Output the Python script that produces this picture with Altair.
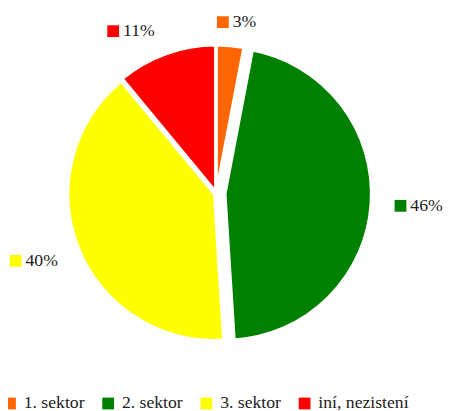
import altair as alt
import pandas as pd

categories = ["1. sektor", "2. sektor", "3. sektor", "iní, nezistení"]
shares = [3, 46, 40, 11]
labels = ["3%", "46%", "40%", "11%"]
colors = ["#FF6600", "#008000", "#FFFF00", "#FF0000"]

df = pd.DataFrame({"cat": categories, "share": shares, "label": labels,
                   "order": list(range(len(categories)))})

CX, CY, R = 212, 185, 149
FONT = "Liberation Serif, DejaVu Serif, serif"

color = alt.Color("cat:N", scale=alt.Scale(domain=categories, range=colors),
                  sort=categories,
                  legend=alt.Legend(title=None, orient="none", legendX=-7, legendY=390,
                                    direction="horizontal", symbolType="square",
                                    symbolSize=144, symbolStrokeWidth=0,
                                    labelFont=FONT, labelFontSize=18, labelColor="#222",
                                    columnPadding=15, labelOffset=5, padding=0))

base = alt.Chart(df).transform_window(
    cum="sum(share)", sort=[alt.SortField("order")],
    frame=[None, 0]
).transform_joinaggregate(total="sum(share)").transform_calculate(
    start="(datum.cum - datum.share) / datum.total * 2 * PI",
    end="datum.cum / datum.total * 2 * PI",
    mid="(datum.cum - datum.share / 2) / datum.total * 2 * PI",
    ex="datum.cat === '2. sektor' ? 9 : 2",
    bw="18 + 12 * length(datum.label)",
).transform_calculate(
    cx=f"{CX} + datum.ex * sin(datum.mid)",
    cy=f"{CY} - datum.ex * cos(datum.mid)",
).transform_calculate(
    px="datum.cx + (164 + datum.ex) * sin(datum.mid)",
    py="datum.cy - (164 + datum.ex) * cos(datum.mid)",
).transform_calculate(
    lx="datum.px + datum.bw / 2 * clamp(3 * sin(datum.mid), -1, 1)",
    ly="datum.py - 7 * clamp(3 * cos(datum.mid), -1, 1)",
).transform_calculate(
    sx="datum.lx - datum.bw / 2 + 6",
    tx="datum.lx - datum.bw / 2 + 16",
)

arcs = base.mark_arc(radius=R, stroke="white", strokeWidth=3).encode(
    theta=alt.Theta("start:Q", scale=None),
    theta2="end:Q",
    x=alt.X("cx:Q", scale=None),
    y=alt.Y("cy:Q", scale=None),
    color=color,
)

squares = base.mark_square(size=144, opacity=1).encode(
    x=alt.X("sx:Q", scale=None),
    y=alt.Y("ly:Q", scale=None),
    color=alt.Color("cat:N", scale=alt.Scale(domain=categories, range=colors), legend=None),
)

texts = base.mark_text(align="left", baseline="middle", font=FONT, fontSize=18,
                       color="#222").encode(
    x=alt.X("tx:Q", scale=None),
    y=alt.Y("ly:Q", scale=None),
    text="label:N",
)

chart = alt.layer(arcs, squares, texts).properties(
    width=448, height=403, padding=0, autosize=alt.AutoSizeParams(type="none")
).configure_view(stroke=None)

chart.save("out.html", embed_options={"renderer": "svg", "actions": False})
